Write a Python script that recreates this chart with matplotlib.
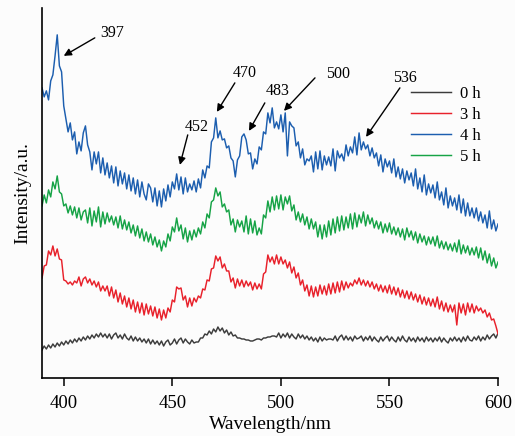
import numpy as np
import matplotlib
matplotlib.use("Agg")
import matplotlib.pyplot as plt

# wavelength axis, one point per nm
wavelength = np.arange(390, 601)

# intensities (a.u.), 390..600 nm
int_0h = [
    28, 32, 29, 33, 30, 34, 31, 35, 32, 36,
    33, 37, 34, 38, 35, 39, 36, 40, 37, 41,
    38, 42, 39, 43, 40, 44, 41, 45, 41, 44,
    40, 44, 39, 43, 45, 40, 43, 39, 44, 40,
    38, 42, 37, 41, 37, 40, 36, 39, 35, 39,
    34, 38, 34, 37, 33, 37, 32, 36, 38, 33,
    35, 39, 34, 38, 40, 35, 39, 36, 34, 38,
    35, 36, 36, 40, 40, 44, 43, 47, 44, 49,
    46, 51, 47, 50, 45, 48, 43, 46, 42, 43,
    40, 40, 39, 39, 38, 38, 37, 37, 38, 39,
    39, 38, 40, 40, 41, 41, 42, 42, 41, 45,
    40, 44, 41, 45, 40, 44, 41, 39, 44, 40,
    43, 39, 42, 38, 41, 37, 40, 36, 41, 37,
    40, 38, 39, 39, 38, 42, 37, 41, 43, 38,
    42, 38, 41, 37, 42, 39, 40, 42, 37, 41,
    38, 42, 37, 41, 38, 36, 41, 37, 40, 42,
    37, 41, 38, 36, 41, 37, 42, 38, 36, 41,
    37, 40, 36, 41, 37, 40, 36, 41, 37, 40,
    36, 40, 37, 41, 36, 40, 37, 35, 40, 37,
    41, 37, 40, 36, 41, 37, 42, 38, 37, 41,
    38, 42, 37, 41, 38, 43, 39, 42, 44, 40,
    45]

int_3h = [
    100, 112, 113, 127, 123, 132, 122, 129, 119, 118,
    98, 97, 94, 96, 93, 97, 95, 101, 92, 99,
    101, 95, 99, 93, 97, 91, 96, 87, 92, 87,
    92, 82, 91, 80, 88, 76, 85, 74, 82, 71,
    80, 69, 78, 66, 76, 65, 75, 63, 74, 64,
    72, 62, 71, 60, 69, 58, 68, 60, 70, 66,
    78, 76, 91, 89, 90, 78, 82, 71, 80, 72,
    80, 76, 82, 80, 89, 88, 98, 97, 109, 110,
    122, 117, 121, 110, 114, 107, 107, 96, 100, 90,
    99, 92, 98, 91, 97, 92, 96, 88, 95, 89,
    94, 89, 104, 106, 123, 116, 121, 114, 123, 114,
    121, 114, 118, 110, 116, 105, 111, 100, 105, 93,
    98, 87, 93, 82, 92, 81, 91, 82, 93, 84,
    92, 83, 94, 84, 95, 85, 96, 86, 97, 88,
    96, 90, 95, 92, 98, 94, 100, 93, 98, 92,
    97, 91, 96, 89, 94, 87, 93, 86, 92, 85,
    93, 84, 91, 83, 90, 81, 88, 80, 87, 79,
    86, 78, 84, 76, 83, 74, 81, 73, 80, 72,
    79, 71, 81, 69, 77, 67, 75, 66, 73, 66,
    73, 53, 75, 65, 74, 63, 75, 66, 74, 65,
    72, 67, 70, 65, 68, 61, 65, 58, 59, 52,
    44]

int_4h = [
    290, 281, 287, 278, 297, 303, 322, 343, 312, 306,
    272, 259, 246, 255, 238, 246, 224, 236, 227, 245,
    252, 233, 226, 208, 226, 214, 226, 205, 220, 203,
    215, 200, 212, 195, 211, 192, 207, 194, 205, 189,
    203, 187, 200, 184, 198, 181, 196, 184, 178, 194,
    190, 176, 190, 172, 187, 171, 189, 177, 193, 181,
    196, 189, 204, 188, 201, 184, 200, 186, 194, 188,
    197, 186, 199, 190, 208, 200, 212, 210, 236, 240,
    260, 240, 247, 238, 239, 230, 232, 220, 217, 201,
    218, 222, 241, 244, 238, 224, 225, 209, 219, 214,
    231, 228, 246, 244, 265, 255, 270, 250, 256, 249,
    263, 246, 265, 222, 256, 252, 250, 232, 236, 220,
    229, 213, 219, 217, 222, 206, 226, 209, 227, 208,
    222, 213, 221, 212, 229, 207, 227, 220, 224, 217,
    233, 222, 231, 225, 241, 223, 245, 228, 236, 229,
    233, 222, 230, 220, 225, 212, 223, 206, 219, 211,
    217, 205, 219, 201, 211, 199, 209, 195, 207, 198,
    205, 192, 209, 189, 200, 186, 203, 183, 194, 185,
    193, 180, 196, 178, 186, 173, 190, 170, 182, 172,
    180, 168, 183, 165, 179, 162, 175, 162, 170, 160,
    170, 157, 166, 155, 163, 150, 167, 149, 158, 147,
    154]

int_5h = [
    172, 183, 175, 188, 181, 196, 189, 202, 186, 184,
    172, 174, 165, 172, 163, 171, 160, 170, 158, 166,
    168, 155, 170, 152, 167, 156, 171, 151, 166, 154,
    165, 156, 162, 153, 161, 150, 162, 149, 158, 148,
    156, 145, 153, 142, 152, 140, 149, 137, 146, 136,
    144, 133, 141, 131, 138, 127, 137, 131, 144, 137,
    151, 146, 160, 147, 153, 139, 150, 136, 147, 138,
    148, 141, 150, 144, 156, 150, 164, 160, 176, 178,
    190, 182, 186, 171, 174, 166, 168, 153, 159, 146,
    158, 151, 157, 146, 162, 144, 159, 145, 157, 143,
    150, 144, 163, 160, 177, 166, 181, 168, 182, 169,
    183, 168, 181, 174, 182, 167, 173, 158, 166, 156,
    164, 153, 161, 149, 159, 149, 156, 141, 153, 139,
    153, 141, 157, 143, 159, 145, 161, 147, 162, 148,
    161, 150, 164, 149, 165, 151, 163, 155, 166, 152,
    163, 154, 160, 150, 157, 149, 156, 145, 154, 146,
    155, 144, 151, 143, 150, 141, 149, 138, 150, 141,
    147, 138, 146, 135, 144, 136, 142, 133, 141, 134,
    141, 132, 142, 130, 137, 129, 136, 128, 134, 127,
    135, 126, 138, 124, 133, 125, 132, 123, 130, 123,
    131, 120, 130, 118, 127, 115, 124, 112, 120, 110,
    116]

series_labels = ["0 h", "3 h", "4 h", "5 h"]
series_colors = ["#3c3c3c", "#e8212b", "#1c5eaf", "#16a346"]

# peak labels: (text, text xy, arrow start, arrow tip)
peaks = [
    ("397", (422.1, 345), (414.3, 340), (400.0, 322)),
    ("452", (461.3, 251), (457.1, 243), (453.5, 213)),
    ("470", (483.4, 305), (478.8, 295), (470.5, 266)),
    ("483", (498.6, 287), (492.6, 275), (485.3, 247)),
    ("500", (526.3, 304), (515.7, 300), (501.4, 267)),
    ("536", (557.1, 300), (554.8, 290), (539.2, 241)),
]

plt.rcParams["font.family"] = ["Liberation Serif", "DejaVu Serif"]

fig = plt.figure(figsize=(5.15, 4.36), dpi=100, facecolor="#fcfcfc")
ax = fig.add_axes([0.0816, 0.133, 0.8855, 0.849])
ax.set_facecolor("#fcfcfc")

for vals, lab, col in zip([int_0h, int_3h, int_4h, int_5h],
                          series_labels, series_colors):
    ax.plot(wavelength, vals, color=col, lw=1.05, label=lab)

for txt, txy, start, tip in peaks:
    ax.text(txy[0], txy[1], txt, fontsize=11.5, ha="center", va="center")
    ax.annotate("", xy=tip, xytext=start,
                arrowprops=dict(arrowstyle="-|>", color="black", lw=1.0,
                                mutation_scale=11, shrinkA=0, shrinkB=0))

ax.set_xlim(390, 600)
ax.set_ylim(0, 370)
ax.set_xticks([400, 450, 500, 550, 600])
ax.set_yticks([])
ax.tick_params(axis="x", direction="out", length=6, width=1.1,
               labelsize=13.5, pad=6)
for side in ["top", "right"]:
    ax.spines[side].set_visible(False)
for side in ["left", "bottom"]:
    ax.spines[side].set_linewidth(1.2)

# reference crops this label at the bottom edge; keep it just inside
ax.set_xlabel("Wavelength/nm", fontsize=14, labelpad=3)
ax.set_ylabel("Intensity/a.u.", fontsize=14, labelpad=8)

ax.legend(loc="upper left", bbox_to_anchor=(0.777, 0.83), frameon=False,
          fontsize=12, handlelength=2.4, labelspacing=0.3,
          handletextpad=0.5)

fig.savefig("out.png", dpi=100, facecolor=fig.get_facecolor())
